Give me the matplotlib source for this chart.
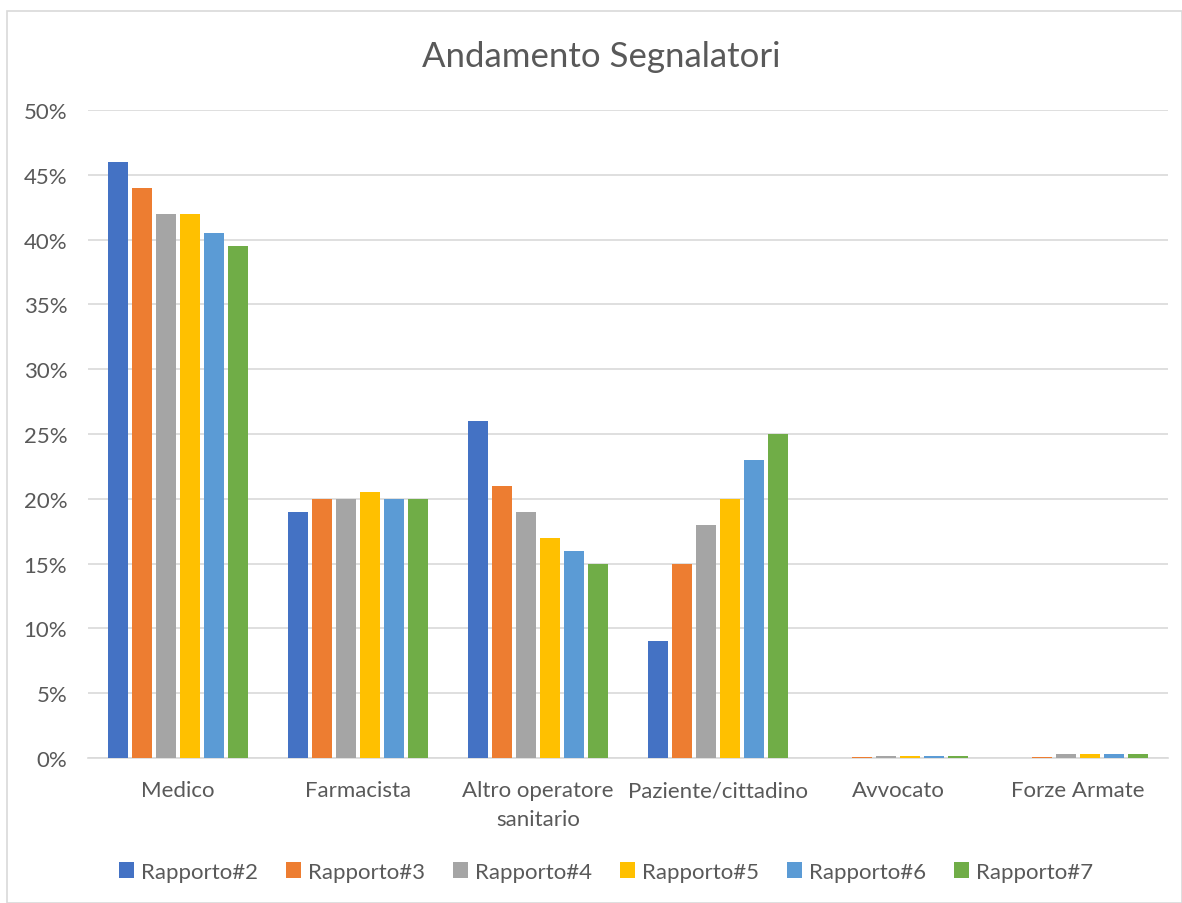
import matplotlib
matplotlib.use("Agg")
import matplotlib.pyplot as plt
import numpy as np
from matplotlib.patches import Rectangle

categories = ["Medico", "Farmacista", "Altro operatore\nsanitario", "Paziente/cittadino", "Avvocato", "Forze Armate"]
series_names = ["Rapporto#2", "Rapporto#3", "Rapporto#4", "Rapporto#5", "Rapporto#6", "Rapporto#7"]
r2 = [0.46, 0.19, 0.26, 0.09, 0.0, 0.0]
r3 = [0.44, 0.20, 0.21, 0.15, 0.001, 0.0005]
r4 = [0.42, 0.20, 0.19, 0.18, 0.0015, 0.003]
r5 = [0.42, 0.205, 0.17, 0.20, 0.0015, 0.003]
r6 = [0.405, 0.20, 0.16, 0.23, 0.0015, 0.003]
r7 = [0.395, 0.20, 0.15, 0.25, 0.0015, 0.003]
series = [r2, r3, r4, r5, r6, r7]
colors = ["#4472C4", "#ED7D31", "#A5A5A5", "#FFC000", "#5B9BD5", "#70AD47"]
yticks = [0, 0.05, 0.10, 0.15, 0.20, 0.25, 0.30, 0.35, 0.40, 0.45, 0.50]
ytick_labels = ["0%", "5%", "10%", "15%", "20%", "25%", "30%", "35%", "40%", "45%", "50%"]

plt.rcParams['font.family'] = ['Lato', 'DejaVu Sans']
txt = "#595959"

fig = plt.figure(figsize=(11.82, 9.04), dpi=100)
fig.patches.append(Rectangle((7/1182, 0), 1 - 7/1182, 1 - 12/904, transform=fig.transFigure,
                             fill=False, edgecolor="#D9D9D9", linewidth=1.2))
ax = fig.add_axes([88/1182, 1 - 759/904, (1168 - 88)/1182, (759 - 111)/904])

x = np.arange(len(categories))
slot = 0.1333
bw = 0.106
for i, (vals, c, name) in enumerate(zip(series, colors, series_names)):
    ax.bar(x + (i - 2.5) * slot, vals, width=bw, color=c, label=name, zorder=3)

ax.set_xlim(-0.5, len(categories) - 0.5)
ax.set_ylim(0, 0.5)
ax.set_yticks(yticks)
ax.set_yticklabels(ytick_labels)
ax.set_xticks(x)
ax.set_xticklabels(categories)
ax.grid(axis='y', color="#D9D9D9", linewidth=1.2, zorder=0)
for s in ["top", "right", "left"]:
    ax.spines[s].set_visible(False)
ax.spines["bottom"].set_color("#D9D9D9")
ax.spines["bottom"].set_linewidth(1.2)
ax.tick_params(axis='both', length=0, colors=txt, labelsize=16)
ax.tick_params(axis='y', pad=15)
ax.tick_params(axis='x', pad=16)
for lab in ax.get_xticklabels():
    lab.set_linespacing(1.55)

fig.text(601/1182, 1 - 57/904, "Andamento Segnalatori", ha='center', va='center', fontsize=25, color=txt)

leg = fig.legend(loc='center', bbox_to_anchor=(606/1182, 1 - 873/904), ncol=6, frameon=False,
                 fontsize=16, handlelength=0.7, handleheight=0.7, handletextpad=0.3, columnspacing=1.25)
for t in leg.get_texts():
    t.set_color(txt)

fig.savefig("out.png", dpi=100)
